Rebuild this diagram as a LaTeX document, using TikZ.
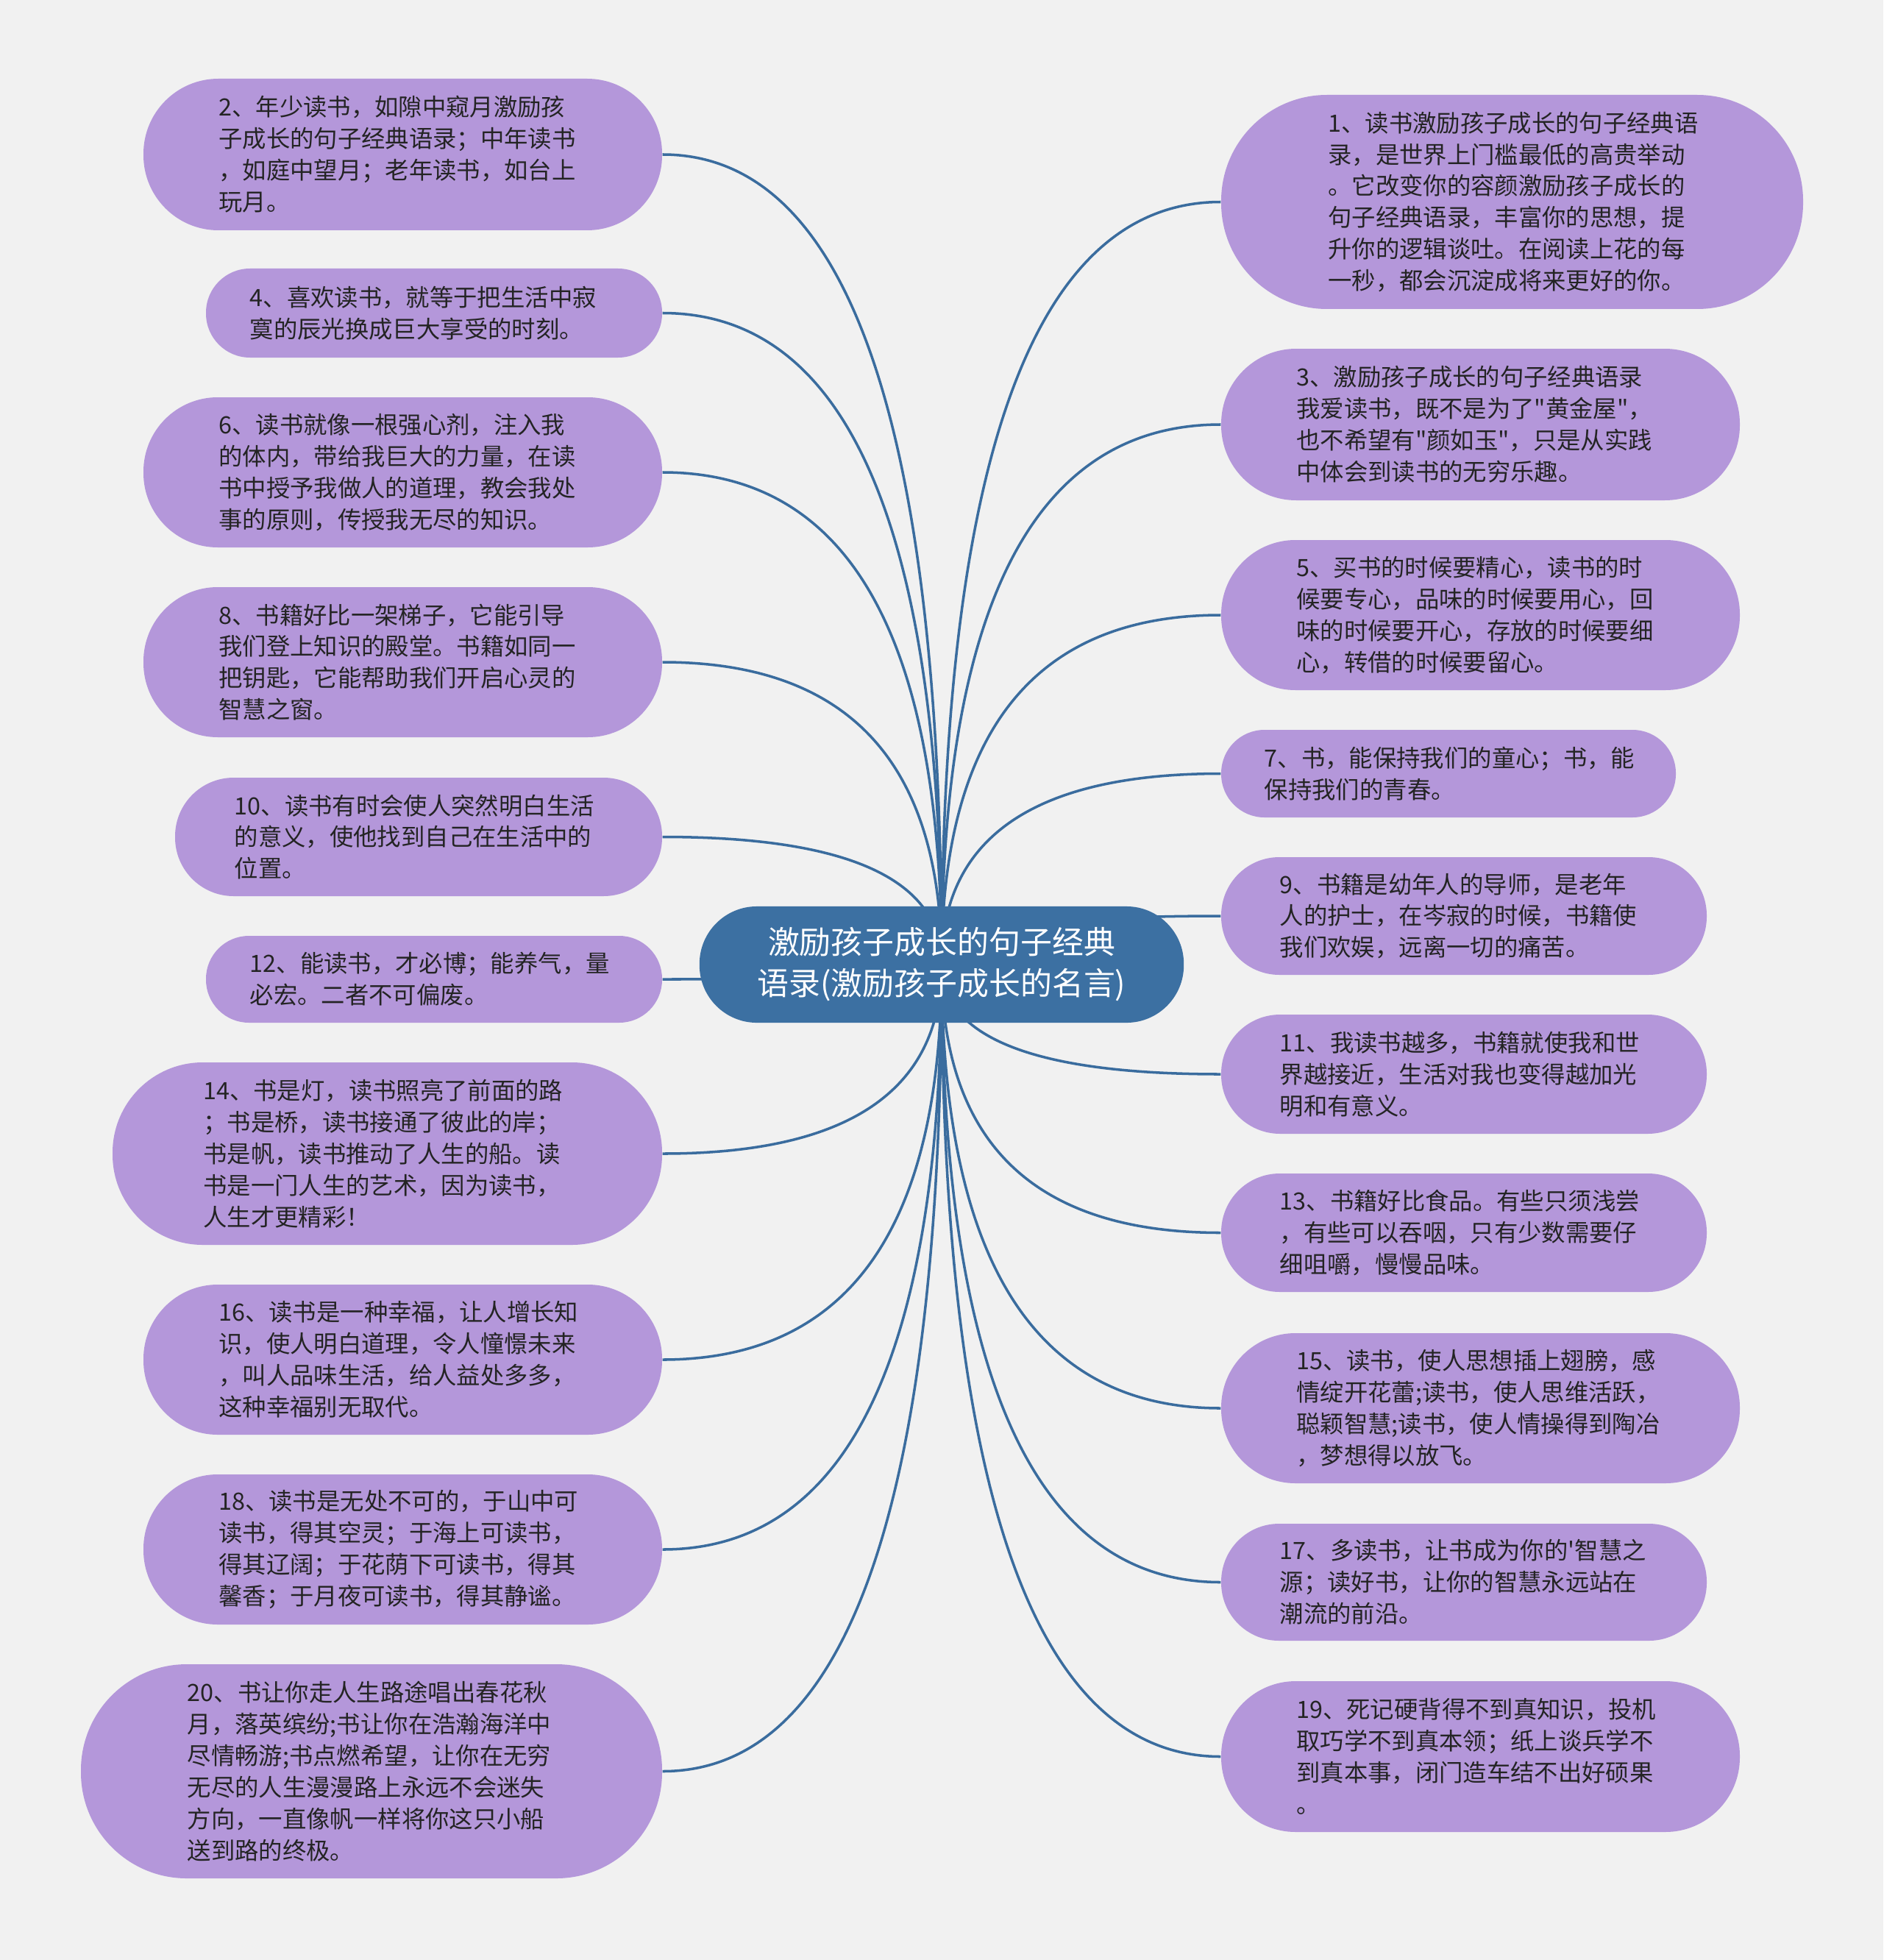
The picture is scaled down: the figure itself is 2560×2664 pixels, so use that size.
\documentclass[tikz,border=0pt]{standalone}
\usepackage{fontspec}
\setmainfont{Noto Sans CJK SC}[Ligatures=TeXOff]
\usetikzlibrary{calc}
\definecolor{bgc}{RGB}{241,241,241}
\definecolor{boxc}{RGB}{180,151,218}
\definecolor{hubc}{RGB}{60,112,162}
\definecolor{lnc}{RGB}{58,108,158}
\definecolor{txc}{RGB}{36,36,36}
\pgfdeclarelayer{back}
\pgfdeclarelayer{bg}
\pgfsetlayers{back,bg,main}
\tikzset{
  leaf/.style 2 args={fill=boxc, text=txc, inner sep=0pt,
    minimum width=#1*0.01cm, minimum height=#2*0.01cm,
    rounded corners=#2*0.00495cm, text width=5cm, align=left,
    font=\fontsize{9.2pt}{12.2pt}\selectfont},
  hub/.style={fill=hubc, text=white, inner sep=0pt,
    minimum width=6.58cm, minimum height=1.58cm,
    rounded corners=0.78cm, align=center,
    font=\fontsize{12.2pt}{15.9pt}\selectfont},
  conn/.style={draw=lnc, line width=1pt}
}
\newcommand\link[2]{\draw[conn] (#1.center) .. controls ($(#1.center)!0.6667!(#1.center |- #2)$) and ($(#2)!0.6667!(#1.center |- #2)$) .. (#2);}
\begin{document}
\begin{tikzpicture}[x=0.01cm,y=-0.01cm]
\useasboundingbox (0,0) rectangle (2560,2664);
\begin{pgfonlayer}{back}
\fill[bgc] (0,0) rectangle (2560,2664);
\end{pgfonlayer}

% hub
\node[hub] (c) at (1280,1311) {激励孩子成长的句子经典\\语录(激励孩子成长的名言)};

% left column
\node[leaf={705}{206}] (L2) at (547.5,210) {2、年少读书，如隙中窥月激励孩\\子成长的句子经典语录；中年读书\\，如庭中望月；老年读书，如台上\\玩月。};
\node[leaf={620}{121}] (L4) at (590,425.5) {4、喜欢读书，就等于把生活中寂\\寞的辰光换成巨大享受的时刻。};
\node[leaf={705}{204}] (L6) at (547.5,642) {6、读书就像一根强心剂，注入我\\的体内，带给我巨大的力量，在读\\书中授予我做人的道理，教会我处\\事的原则，传授我无尽的知识。};
\node[leaf={705}{204}] (L8) at (547.5,900) {8、书籍好比一架梯子，它能引导\\我们登上知识的殿堂。书籍如同一\\把钥匙，它能帮助我们开启心灵的\\智慧之窗。};
\node[leaf={662}{161}] (L10) at (569,1137.5) {10、读书有时会使人突然明白生活\\的意义，使他找到自己在生活中的\\位置。};
\node[leaf={620}{118}] (L12) at (590,1331) {12、能读书，才必博；能养气，量\\必宏。二者不可偏废。};
\node[leaf={747}{248}] (L14) at (526.5,1568) {14、书是灯，读书照亮了前面的路\\；书是桥，读书接通了彼此的岸；\\书是帆，读书推动了人生的船。读\\书是一门人生的艺术，因为读书，\\人生才更精彩！};
\node[leaf={705}{204}] (L16) at (547.5,1848) {16、读书是一种幸福，让人增长知\\识，使人明白道理，令人憧憬未来\\，叫人品味生活，给人益处多多，\\这种幸福别无取代。};
\node[leaf={705}{204}] (L18) at (547.5,2106) {18、读书是无处不可的，于山中可\\读书，得其空灵；于海上可读书，\\得其辽阔；于花荫下可读书，得其\\馨香；于月夜可读书，得其静谧。};
\node[leaf={790}{291}] (L20) at (505,2407.5) {20、书让你走人生路途唱出春花秋\\月，落英缤纷;书让你在浩瀚海洋中\\尽情畅游;书点燃希望，让你在无穷\\无尽的人生漫漫路上永远不会迷失\\方向，一直像帆一样将你这只小船\\送到路的终极。};

% right column
\node[leaf={791}{291}] (R1) at (2055.5,274.5) {1、读书激励孩子成长的句子经典语\\录，是世界上门槛最低的高贵举动\\。它改变你的容颜激励孩子成长的\\句子经典语录，丰富你的思想，提\\升你的逻辑谈吐。在阅读上花的每\\一秒，都会沉淀成将来更好的你。};
\node[leaf={705}{206}] (R3) at (2012.5,577) {3、激励孩子成长的句子经典语录\\我爱读书，既不是为了"黄金屋"，\\也不希望有"颜如玉"，只是从实践\\中体会到读书的无穷乐趣。};
\node[leaf={705}{204}] (R5) at (2012.5,836) {5、买书的时候要精心，读书的时\\候要专心，品味的时候要用心，回\\味的时候要开心，存放的时候要细\\心，转借的时候要留心。};
\node[leaf={618}{119}] (R7) at (1969,1051.5) {7、书，能保持我们的童心；书，能\\保持我们的青春。};
\node[leaf={660}{160}] (R9) at (1990,1245) {9、书籍是幼年人的导师，是老年\\人的护士，在岑寂的时候，书籍使\\我们欢娱，远离一切的痛苦。};
\node[leaf={660}{162}] (R11) at (1990,1460) {11、我读书越多，书籍就使我和世\\界越接近，生活对我也变得越加光\\明和有意义。};
\node[leaf={660}{161}] (R13) at (1990,1675.5) {13、书籍好比食品。有些只须浅尝\\，有些可以吞咽，只有少数需要仔\\细咀嚼，慢慢品味。};
\node[leaf={705}{204}] (R15) at (2012.5,1914) {15、读书，使人思想插上翅膀，感\\情绽开花蕾;读书，使人思维活跃，\\聪颖智慧;读书，使人情操得到陶冶\\，梦想得以放飞。};
\node[leaf={660}{159}] (R17) at (1990,2150.5) {17、多读书，让书成为你的'智慧之\\源；读好书，让你的智慧永远站在\\潮流的前沿。};
\node[leaf={705}{205}] (R19) at (2012.5,2387.5) {19、死记硬背得不到真知识，投机\\取巧学不到真本领；纸上谈兵学不\\到真本事，闭门造车结不出好硕果\\。};

% connectors
\begin{pgfonlayer}{bg}
\foreach \n in {L2,L4,L6,L8,L10,L12,L14,L16,L18,L20} {\link{c}{\n.east}}
\foreach \n in {R1,R3,R5,R7,R9,R11,R13,R15,R17,R19} {\link{c}{\n.west}}
\end{pgfonlayer}
\end{tikzpicture}
\end{document}
